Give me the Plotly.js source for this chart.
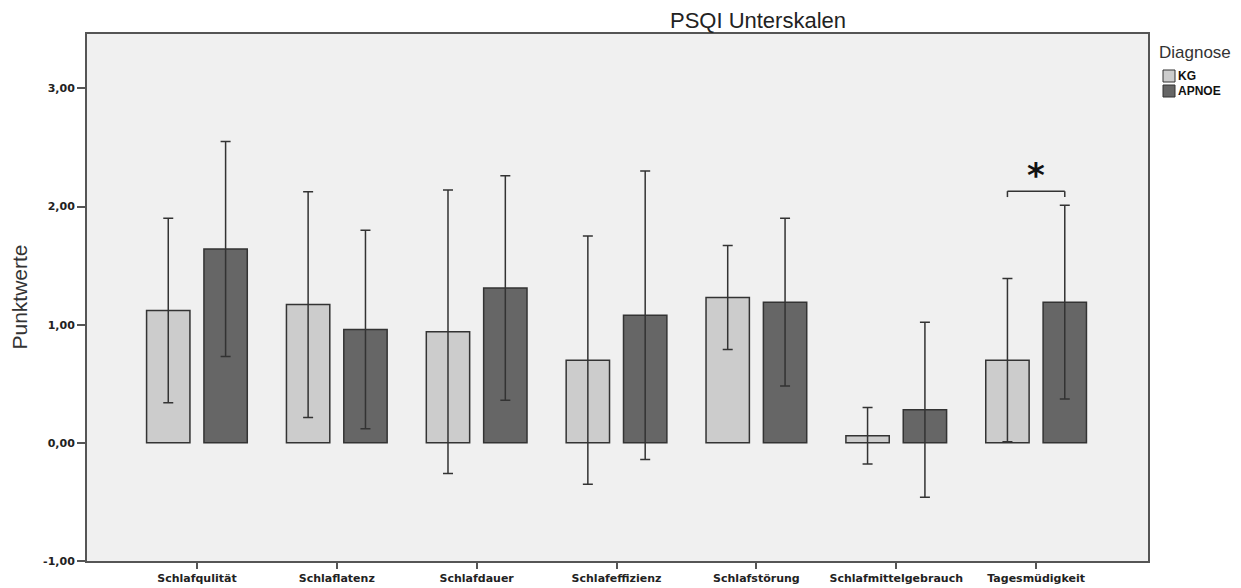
<!DOCTYPE html>
<html>
<head>
<meta charset="utf-8">
<script src="https://cdn.plot.ly/plotly-3.0.1.min.js"></script>
<style>html,body{margin:0;padding:0;background:#fff;}#chart{width:1241px;height:588px;}</style>
</head>
<body>
<div id="chart"></div>
<script>
const categories = ["Schlafqulität","Schlaflatenz","Schlafdauer","Schlafeffizienz","Schlafstörung","Schlafmittelgebrauch","Tagesmüdigkeit"];
const groups    = ["KG", "APNOE"];
const kgMean    = [1.12, 1.17, 0.94, 0.70, 1.23, 0.06, 0.70];
const kgSD      = [0.78, 0.955, 1.20, 1.05, 0.44, 0.24, 0.69];
const apnoeMean = [1.64, 0.96, 1.31, 1.08, 1.19, 0.28, 1.19];
const apnoeSD   = [0.91, 0.84, 0.95, 1.22, 0.71, 0.74, 0.82];
const yTickVals = [-1, 0, 1, 2, 3];
const yTickText = ["-1,00", "0,00", "1,00", "2,00", "3,00"];
const sigIndex = 6;

const colors = ['#cccccc', '#666666'];
const W = 1241, H = 588, ML = 87, MR = 93, MT = 34, MB = 27;
const PW = W - ML - MR, PH = H - MT - MB;
const px2x = p => (p - ML) / PW;
const py2y = p => 1 - (p - MT) / PH;

const xIdx = categories.map((_, i) => i);
const errStyle = {type: 'data', visible: true, color: '#333333', thickness: 1.5, width: 5};
const tickFont = {family: 'DejaVu Sans, sans-serif', size: 11, color: '#222222'};

const traces = [
  {type: 'bar', name: groups[0], x: xIdx, y: kgMean,
   width: 0.31, offset: -0.36, showlegend: false,
   marker: {color: colors[0], line: {color: '#333333', width: 1.5}},
   error_y: Object.assign({array: kgSD}, errStyle)},
  {type: 'bar', name: groups[1], x: xIdx, y: apnoeMean,
   width: 0.31, offset: 0.05, showlegend: false,
   marker: {color: colors[1], line: {color: '#333333', width: 1.5}},
   error_y: Object.assign({array: apnoeSD}, errStyle)}
];

const kgC = sigIndex - 0.36 + 0.155, apC = sigIndex + 0.05 + 0.155;
const topErr = Math.max(kgMean[sigIndex] + kgSD[sigIndex], apnoeMean[sigIndex] + apnoeSD[sigIndex]);
const brY = topErr + 0.12;

const shapes = [
  {type: 'line', xref: 'x', yref: 'y', x0: kgC, x1: apC, y0: brY, y1: brY, line: {color: '#333333', width: 1.5}},
  {type: 'line', xref: 'x', yref: 'y', x0: kgC, x1: kgC, y0: brY, y1: brY - 0.05, line: {color: '#333333', width: 1.5}},
  {type: 'line', xref: 'x', yref: 'y', x0: apC, x1: apC, y0: brY, y1: brY - 0.05, line: {color: '#333333', width: 1.5}}
];
const annotations = [
  {text: '<b>*</b>', xref: 'x', yref: 'y', x: (kgC + apC) / 2, y: brY, yanchor: 'bottom', yshift: -6,
   showarrow: false, font: {family: 'DejaVu Sans, sans-serif', size: 34, color: '#111111'}},
  {text: 'Punktwerte', xref: 'paper', yref: 'paper', x: px2x(19), xanchor: 'center', y: 0.5, yanchor: 'middle',
   textangle: -90, showarrow: false, font: {family: 'Liberation Sans, Arial, sans-serif', size: 21, color: '#333333'}},
  {text: 'Diagnose', xref: 'paper', yref: 'paper', x: px2x(1157), xanchor: 'left', y: py2y(52), yanchor: 'middle',
   showarrow: false, font: {family: 'Liberation Sans, Arial, sans-serif', size: 17, color: '#333333'}}
];
// legend entries
groups.forEach((g, i) => {
  const cy = 76 + i * 15;
  shapes.push({type: 'rect', xref: 'paper', yref: 'paper', x0: px2x(1163), x1: px2x(1175), y0: py2y(cy - 6), y1: py2y(cy + 6),
               fillcolor: colors[i], line: {color: '#333333', width: 1}});
  annotations.push({text: '<b>' + g + '</b>', xref: 'paper', yref: 'paper', x: px2x(1176), xanchor: 'left', y: py2y(cy), yanchor: 'middle',
                    showarrow: false, font: {family: 'Liberation Sans, Arial, sans-serif', size: 12, color: '#111111'}});
});

const layout = {
  width: W, height: H,
  margin: {l: ML, r: MR, t: MT, b: MB},
  paper_bgcolor: '#ffffff',
  plot_bgcolor: '#f0f0f0',
  font: {family: 'Liberation Sans, Arial, sans-serif', color: '#222222'},
  title: {text: 'PSQI Unterskalen', x: 758/1241, xanchor: 'center', y: 1 - 20/588, yanchor: 'middle',
          font: {size: 22, color: '#222222'}},
  barmode: 'overlay',
  showlegend: false,
  xaxis: {
    range: [-0.786, 6.8], tickmode: 'array', tickvals: xIdx, ticktext: categories.map(c => '<b>' + c + '</b>'),
    showline: true, linecolor: '#555555', linewidth: 2, mirror: true,
    ticks: 'outside', ticklen: 6, tickwidth: 2, tickcolor: '#555555',
    showgrid: false, zeroline: false, tickfont: tickFont
  },
  yaxis: {
    range: [-1, 3.46], tickmode: 'array', tickvals: yTickVals, ticktext: yTickText.map(t => '<b>' + t + '</b>'),
    showline: true, linecolor: '#555555', linewidth: 2, mirror: true,
    ticks: 'outside', ticklen: 8, tickwidth: 2, tickcolor: '#555555',
    showgrid: false, zeroline: false, tickfont: tickFont
  },
  shapes: shapes,
  annotations: annotations
};

Plotly.newPlot('chart', traces, layout, {displayModeBar: false, responsive: false});
</script>
</body>
</html>
